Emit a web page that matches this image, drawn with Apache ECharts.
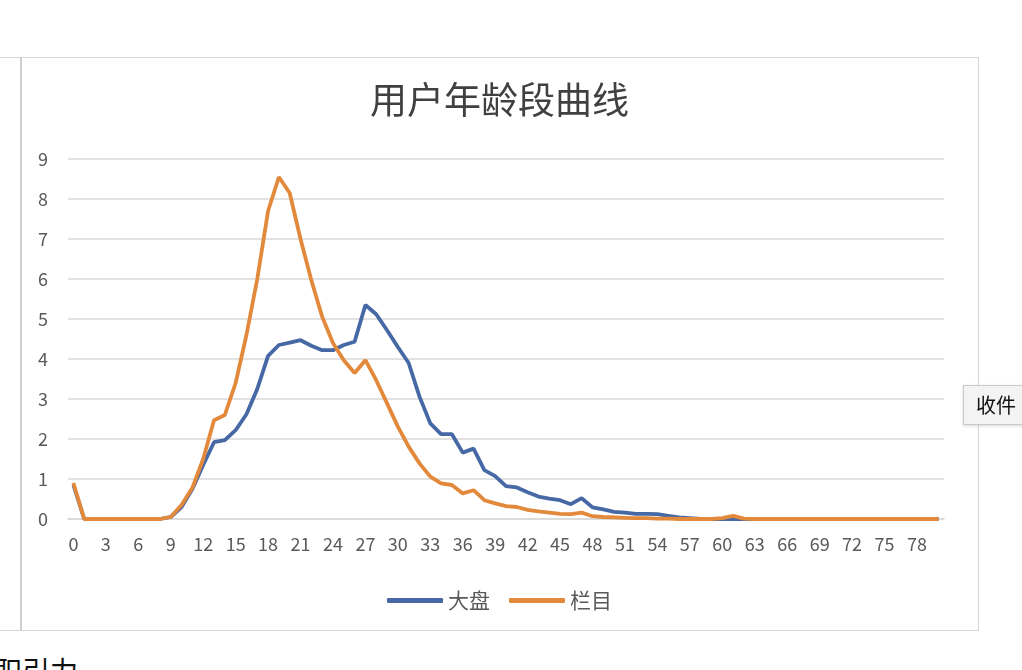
<!DOCTYPE html>
<html>
<head>
<meta charset="utf-8">
<script src="https://cdn.jsdelivr.net/npm/echarts@6/dist/echarts.min.js"></script>
<style>
  html, body { margin: 0; padding: 0; background: #fff; width: 1022px; height: 670px; overflow: hidden; position: relative; }
  #frame { position: absolute; left: -2px; top: 57px; width: 979px; height: 572px; border: 1.5px solid #d6d6d6; }
  #innerLine { position: absolute; left: 20px; top: 57px; width: 1.5px; height: 573px; background: #cfcfcf; }
  #chart { position: absolute; left: 21px; top: 58px; width: 957px; height: 572px; }
  #btn { position: absolute; left: 963px; top: 385px; width: 72px; height: 40px; box-sizing: border-box;
         border: 1px solid #c9c9c9; background: #f3f3f3; box-shadow: 0 1px 3px rgba(0,0,0,0.15);
         font: 20px "Noto Sans CJK SC", sans-serif; color: #111; line-height: 38px; padding-left: 12px; }
  #foot { position: absolute; left: -6px; top: 650px; font: 28px "Noto Sans CJK SC", sans-serif; color: #111; white-space: nowrap; }
</style>
</head>
<body>
<div id="frame"></div>
<div id="innerLine"></div>
<div id="chart"></div>
<div id="btn">收件</div>
<div id="foot">职引力</div>
<script>
// 年龄 0 ~ 80
let ages = [];
for (let i = 0; i <= 80; i++) ages.push(String(i));

let dapan = [
    0.85, 0, 0, 0, 0, 0, 0, 0, 0, 0.05,
    0.3, 0.75, 1.35, 1.92, 1.97, 2.22, 2.62, 3.25, 4.08, 4.35,
    4.41, 4.47, 4.33, 4.22, 4.22, 4.35, 4.43, 5.35, 5.12, 4.72,
    4.3, 3.9, 3.06, 2.39, 2.12, 2.12, 1.66, 1.76, 1.22, 1.07,
    0.82, 0.79, 0.67, 0.56, 0.51, 0.47, 0.37, 0.52, 0.29, 0.24,
    0.18, 0.16, 0.13, 0.13, 0.12, 0.08, 0.04, 0.02, 0, 0,
    0, 0, 0, 0, 0, 0, 0, 0, 0, 0,
    0, 0, 0, 0, 0, 0, 0, 0, 0, 0,
    0
];

let lanmu = [
    0.9, 0, 0, 0, 0, 0, 0, 0, 0, 0.05,
    0.35, 0.78, 1.5, 2.47, 2.6, 3.4, 4.6, 6.0, 7.7, 8.55,
    8.15, 7.0, 5.97, 5.06, 4.4, 3.97, 3.65, 3.97, 3.47, 2.89,
    2.31, 1.81, 1.39, 1.06, 0.89, 0.85, 0.64, 0.72, 0.47, 0.39,
    0.32, 0.3, 0.23, 0.19, 0.16, 0.13, 0.12, 0.16, 0.07, 0.05,
    0.04, 0.03, 0.02, 0.02, 0.01, 0.01, 0, 0, 0, 0,
    0.02, 0.08, 0.01, 0, 0, 0, 0, 0, 0, 0,
    0, 0, 0, 0, 0, 0, 0, 0, 0, 0,
    0
];

let font = '"Noto Sans CJK SC", "Noto Sans", sans-serif';
let labelColor = '#595959';

let option = {
    animation: false,
    title: {
        text: '用户年龄段曲线',
        left: 'center',
        top: 18,
        textStyle: { color: '#404040', fontSize: 37, fontWeight: 'normal', fontFamily: font }
    },
    legend: {
        data: ['大盘', '栏目'],
        left: 'center',
        top: 527,
        icon: 'roundRect',
        itemWidth: 56,
        itemHeight: 5,
        itemGap: 19,
        textStyle: { color: labelColor, fontSize: 21, fontFamily: font }
    },
    grid: { left: 47, right: 34, top: 101, bottom: 111 },
    xAxis: {
        type: 'category',
        data: ages,
        boundaryGap: true,
        axisTick: { show: false },
        axisLine: { lineStyle: { color: '#d9d9d9', width: 1.5 } },
        axisLabel: {
            interval: 2,
            color: labelColor,
            fontSize: 18,
            fontFamily: font,
            margin: 16
        }
    },
    yAxis: {
        type: 'value',
        min: 0,
        max: 9,
        interval: 1,
        axisLine: { show: false },
        axisTick: { show: false },
        axisLabel: { color: labelColor, fontSize: 18, fontFamily: font, margin: 20 },
        splitLine: { lineStyle: { color: '#d9d9d9', width: 1.5 } }
    },
    series: [
        {
            name: '大盘',
            type: 'line',
            data: dapan,
            showSymbol: false,
            color: '#4669a5',
            lineStyle: { width: 3.8, color: '#4669a5' }
        },
        {
            name: '栏目',
            type: 'line',
            data: lanmu,
            showSymbol: false,
            color: '#e3893b',
            lineStyle: { width: 3.8, color: '#e3893b' }
        }
    ]
};

let echartsInstance = echarts.init(document.getElementById('chart'));
echartsInstance.setOption(option);
</script>
</body>
</html>
